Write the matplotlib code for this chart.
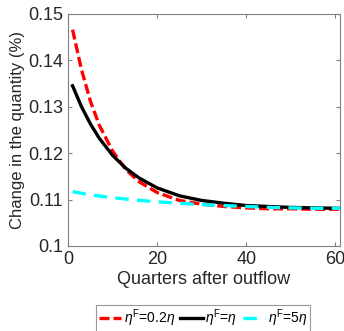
import matplotlib
matplotlib.use("Agg")
import matplotlib.pyplot as plt

plt.rcParams['font.family'] = ['Liberation Sans', 'DejaVu Sans']
plt.rcParams['mathtext.fontset'] = 'custom'
plt.rcParams['mathtext.rm'] = 'Liberation Sans'
plt.rcParams['mathtext.it'] = 'Liberation Sans:italic'

# dane
q_red = [1, 3, 5, 7, 10, 13, 16, 20, 25, 30, 35, 40, 45, 50, 55, 61]
y_red = [0.1466, 0.1380, 0.1312, 0.1260, 0.1204, 0.1164, 0.1138, 0.1115,
         0.1098, 0.1090, 0.1085, 0.1082, 0.1080, 0.1080, 0.1079, 0.1079]

q_black = [1, 3, 5, 7, 10, 13, 16, 20, 25, 30, 35, 40, 45, 50, 55, 61]
y_black = [0.1345, 0.1300, 0.1263, 0.1232, 0.1195, 0.1167, 0.1146, 0.1125,
           0.1108, 0.1098, 0.1092, 0.1087, 0.1085, 0.1083, 0.1082, 0.1081]

q_cyan = [1, 5, 10, 15, 20, 25, 30, 35, 40, 45, 50, 55, 61]
y_cyan = [0.1117, 0.1110, 0.1104, 0.1099, 0.1095, 0.1092, 0.1089, 0.1087,
          0.1085, 0.1083, 0.1082, 0.1081, 0.1081]

labels = [r'$\eta^{\rm F}$=0.2$\eta$', r'$\eta^{\rm F}$=$\eta$', r'$\eta^{\rm F}$=5$\eta$']

fig = plt.figure(figsize=(3.44, 3.31), dpi=100)
ax = fig.add_axes([0.198, 0.257, 0.79, 0.701])

ax.plot(q_red, y_red, color='red', linestyle=(0, (3, 1.2)), linewidth=2.4, label=labels[0])
ax.plot(q_black, y_black, color='black', linestyle='-', linewidth=2.4, label=labels[1])
ax.plot(q_cyan, y_cyan, color='cyan', linestyle=(0, (4, 2.5)), linewidth=2.4, label=labels[2])

ax.set_xlim(0, 61)
ax.set_ylim(0.1, 0.15)
ax.set_xticks([0, 20, 40, 60])
ax.set_yticks([0.1, 0.11, 0.12, 0.13, 0.14, 0.15])
ax.set_yticklabels(['0.1', '0.11', '0.12', '0.13', '0.14', '0.15'])
ax.tick_params(direction='in', top=True, right=True, labelsize=13, length=3,
               color='#808080', labelcolor='#262626')
for s in ax.spines.values():
    s.set_color('#808080')

ax.set_xlabel('Quarters after outflow', fontsize=13, color='#262626', labelpad=2)
ax.set_ylabel('Change in the quantity (%)', fontsize=12, color='#262626', labelpad=2)

leg = fig.legend(loc='upper center', bbox_to_anchor=(0.59, 0.1), ncol=3,
                 fontsize=10, frameon=True, fancybox=False, handlelength=1.6,
                 handletextpad=0.2, columnspacing=0.4, borderpad=0.2)
leg.get_frame().set_edgecolor('#808080')
leg.get_frame().set_linewidth(0.8)

fig.savefig('out.png', dpi=100)
